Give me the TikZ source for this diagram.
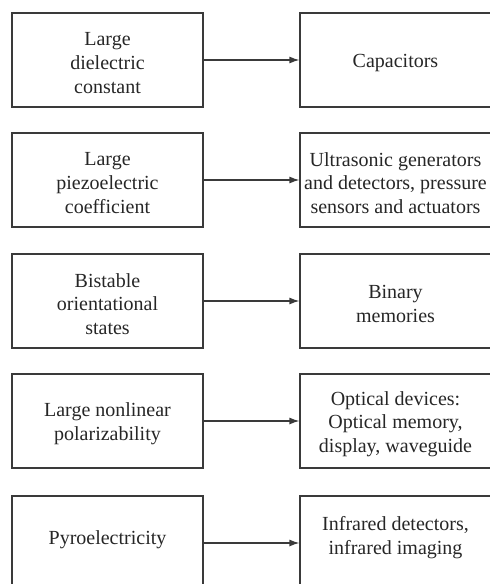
\documentclass[tikz,border=0pt]{standalone}
\usepackage{fontspec}
\setmainfont{Liberation Serif}
\usetikzlibrary{arrows.meta}
\definecolor{linegray}{HTML}{3A3A3A}
\definecolor{textgray}{HTML}{262626}
\begin{document}
\begin{tikzpicture}[x=1pt,y=-1pt,
  txt/.style={text=textgray, align=center, inner sep=0pt,
    font=\fontsize{20}{23.6}\selectfont},
  box/.style={draw=linegray, line width=1.2pt,
    minimum width=191pt, minimum height=94pt, inner sep=0pt},
  % box text sits a little below the geometric centre
  intext/.style={label={[txt,yshift=-3pt]center:{#1}}},
  link/.style={draw=linegray, line width=1.2pt,
    -{Latex[length=10pt,width=7pt]}}
]
\useasboundingbox (0,0) rectangle (490,584);
\clip (0,0) rectangle (490,584);

% property boxes (left) and application boxes (right)
\node[box, intext={Large\\dielectric\\constant}]   (p1) at (107.5,60)  {};
\node[box, intext={Capacitors}]                    (a1) at (395.5,60)  {};

\node[box, intext={Large\\piezoelectric\\coefficient}] (p2) at (107.5,180) {};
\node[box, intext={Ultrasonic generators\\and detectors, pressure\\sensors and actuators}] (a2) at (395.5,180) {};

\node[box, intext={Bistable\\orientational\\states}] (p3) at (107.5,301) {};
\node[box, intext={Binary\\memories}]                (a3) at (395.5,301) {};

\node[box, intext={Large nonlinear\\polarizability}] (p4) at (107.5,421) {};
\node[box, intext={Optical devices:\\Optical memory,\\display, waveguide}] (a4) at (395.5,421) {};

\node[box, label={[txt,yshift=3.5pt]center:{Pyroelectricity}}] (p5) at (107.5,543) {};
\node[box, label={[txt,yshift=5.5pt]center:{Infrared detectors,\\infrared imaging}}] (a5) at (395.5,543) {};

% connectors
\foreach \i in {1,...,5} {
  \draw[link] (p\i) -- (a\i);
}
\end{tikzpicture}
\end{document}
